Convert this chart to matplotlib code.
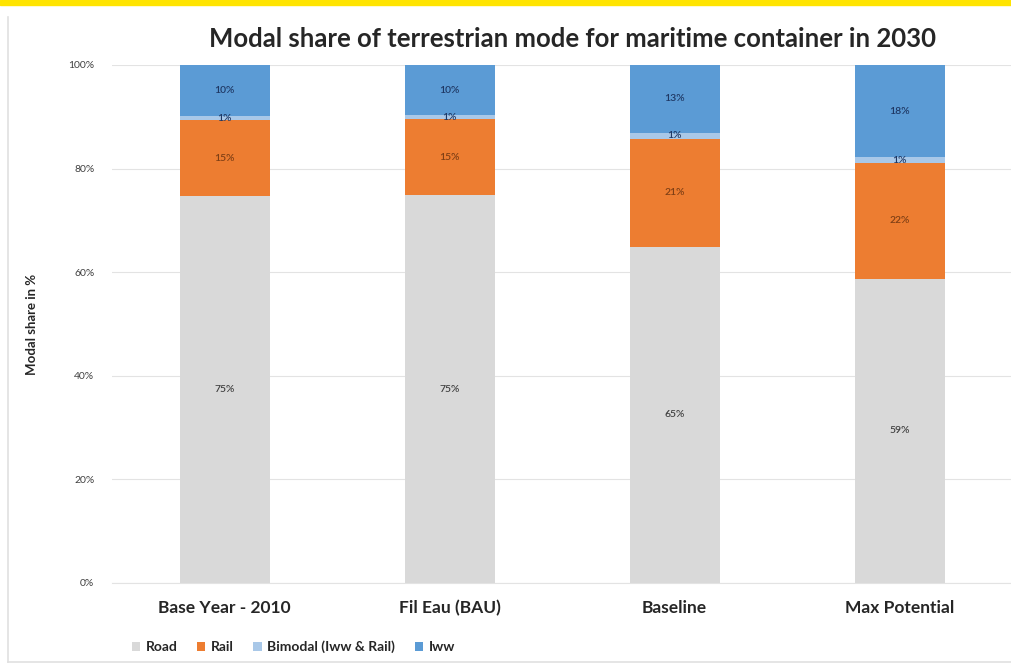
import matplotlib
matplotlib.use("Agg")
import matplotlib.pyplot as plt
from matplotlib.patches import Rectangle
import numpy as np

plt.rcParams['font.family'] = ['Lato', 'DejaVu Sans']

categories = ["Base Year - 2010", "Fil Eau (BAU)", "Baseline", "Max Potential"]
series_names = ["Road", "Rail", "Bimodal (Iww & Rail)", "Iww"]
road = [74.7, 74.8, 64.9, 58.7]
rail = [14.6, 14.7, 20.8, 22.4]
bimodal = [0.9, 0.8, 1.2, 1.1]
iww = [9.8, 9.7, 13.1, 17.8]
y_ticks = [0, 20, 40, 60, 80, 100]

colors = ["#D9D9D9", "#ED7D31", "#A9C8E8", "#5B9BD5"]
label_colors = ["#404040", "#7F3F15", "#1F3864", "#1F3864"]

fig = plt.figure(figsize=(10.12, 6.69), dpi=100)
ax = fig.add_axes([0.111, 0.1286, 0.889, 0.7743])

x = np.arange(len(categories))
bottom = np.zeros(len(categories))
for vals, name, col, lcol in zip([road, rail, bimodal, iww], series_names, colors, label_colors):
    vals = np.array(vals)
    ax.bar(x, vals, width=0.4, bottom=bottom, color=col, label=name, zorder=2)
    for xi, b, v in zip(x, bottom, vals):
        ax.text(xi, b + v / 2, f"{v:.0f}%", ha="center", va="center",
                fontsize=7.5, fontweight="semibold", color=lcol, zorder=3)
    bottom += vals

ax.set_xlim(-0.5, len(categories) - 0.5)
ax.set_ylim(0, 100)
ax.set_yticks(y_ticks)
ax.set_yticklabels([f"{t}%" for t in y_ticks], fontsize=7.5, color="#404040")
ax.yaxis.grid(True, color="#E3E3E3", linewidth=0.8, zorder=0)
ax.set_axisbelow(True)
ax.tick_params(axis="y", length=0, pad=13)
ax.tick_params(axis="x", length=0, pad=12)
ax.set_xticks(x)
ax.set_xticklabels(categories, fontsize=12.5, fontweight="bold", color="#262626")
for s in ["top", "right", "left"]:
    ax.spines[s].set_visible(False)
ax.spines["bottom"].set_color("#E3E3E3")

ax.set_ylabel("Modal share in %", fontsize=9.5, fontweight="bold", color="#262626")
ax.yaxis.set_label_coords(-0.083, 0.5)

fig.text(0.566, 0.942, "Modal share of terrestrian mode for maritime container in 2030",
         ha="center", va="center", fontsize=18.5, fontweight="bold", color="#262626")

leg = fig.legend(loc="center left", bbox_to_anchor=(0.118, 0.033), ncol=4, frameon=False,
                 fontsize=10, handlelength=0.6, handleheight=0.6, handletextpad=0.4,
                 columnspacing=1.4)
for t in leg.get_texts():
    t.set_fontweight("bold")
    t.set_color("#262626")

# page decorations: yellow top band and faint frame
fig.patches.append(Rectangle((0, 0.992), 1, 0.008, transform=fig.transFigure,
                             color="#FFE400", zorder=0))
fig.lines.append(plt.Line2D([0.008, 0.008], [0.01, 0.975], transform=fig.transFigure,
                            color="#E0E0E0", linewidth=1.2))
fig.lines.append(plt.Line2D([0.008, 1.0], [0.01, 0.01], transform=fig.transFigure,
                            color="#E0E0E0", linewidth=1.2))

fig.savefig("out.png", dpi=100)
